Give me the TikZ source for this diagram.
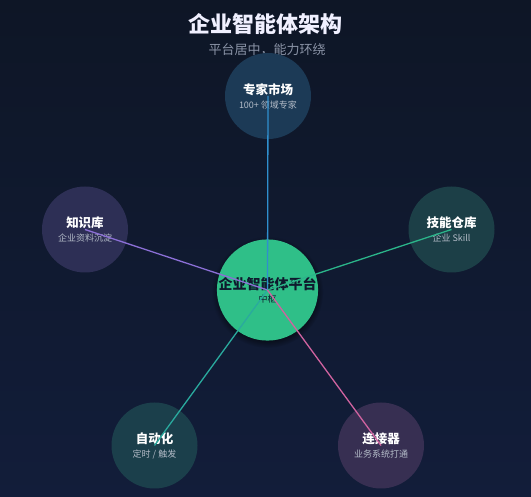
\documentclass[tikz,border=0pt]{standalone}
\usepackage{fontspec}
\setmainfont{Noto Sans CJK SC}
\usetikzlibrary{shadows}

\definecolor{bgtop}{HTML}{0E1626}
\definecolor{bgbot}{HTML}{121D3A}
\definecolor{hubfill}{HTML}{2FBF88}
\definecolor{hubtext}{HTML}{0F1A2E}
\definecolor{subgray}{HTML}{8A93A6}
\definecolor{nodesub}{HTML}{B4BCC8}
\definecolor{fmarket}{HTML}{1C3A56}
\definecolor{fknow}{HTML}{2D2F55}
\definecolor{fskill}{HTML}{1C3F47}
\definecolor{fauto}{HTML}{1B3F4B}
\definecolor{fconn}{HTML}{372F52}
\definecolor{lmarket}{HTML}{2F8FCE}
\definecolor{lknow}{HTML}{8B6FD6}
\definecolor{lskill}{HTML}{2BB58A}
\definecolor{lauto}{HTML}{2AAA9E}
\definecolor{lconn}{HTML}{D063A0}

\begin{document}
\begin{tikzpicture}
    [x=1pt,y=-1pt,
     every node/.style={circle,minimum size=86pt,inner sep=0pt,align=center,text=white},
     hubnode/.style={fill=hubfill,minimum size=101pt,text=hubtext,
       circular drop shadow={shadow xshift=0pt,shadow yshift=-2pt,shadow scale=1.1,opacity=.5,fill=black}},
     spoke/.style={line width=1.3pt}]
    \useasboundingbox (0,0) rectangle (531,497);
    \shade[top color=bgtop,bottom color=bgbot] (0,0) rectangle (531,497);
    \node[rectangle,minimum size=0pt,text=white!94!blue] (title) at (265.5,24)
      {\fontsize{22}{26}\selectfont\bfseries 企业智能体架构};
    \node[rectangle,minimum size=0pt,text=subgray] (subtitle) at (267,50)
      {\fontsize{13}{16}\selectfont 平台居中，能力环绕};
    \node[fill=fmarket] (market) at (268,96)
      {\fontsize{12.5}{17}\selectfont\bfseries 专家市场\\[2pt]{\color{nodesub}\fontsize{9}{11}\selectfont\mdseries 100+ 领域专家}};
    \node[fill=fknow] (know) at (85,229.5)
      {\fontsize{12.5}{17}\selectfont\bfseries 知识库\\[2pt]{\color{nodesub}\fontsize{9}{11}\selectfont\mdseries 企业资料沉淀}};
    \node[fill=fskill] (skill) at (451.5,229.5)
      {\fontsize{12.5}{17}\selectfont\bfseries 技能仓库\\[2pt]{\color{nodesub}\fontsize{9}{11}\selectfont\mdseries 企业 Skill}};
    \node[fill=fauto] (auto) at (154.5,445.5)
      {\fontsize{12.5}{17}\selectfont\bfseries 自动化\\[2pt]{\color{nodesub}\fontsize{9}{11}\selectfont\mdseries 定时 / 触发}};
    \node[fill=fconn] (conn) at (381,445.5)
      {\fontsize{12.5}{17}\selectfont\bfseries 连接器\\[2pt]{\color{nodesub}\fontsize{9}{11}\selectfont\mdseries 业务系统打通}};
    \node[hubnode] (hub) at (267.5,290)
      {\fontsize{14}{19}\selectfont\bfseries 企业智能体平台\\[1pt]{\fontsize{9}{11}\selectfont\mdseries 中枢}};
    \draw[spoke,lmarket] (hub.center) -- (market.center) ;
    \draw[spoke,lknow] (hub.center) -- (know.center) ;
    \draw[spoke,lskill] (hub.center) -- (skill.center) ;
    \draw[spoke,lauto] (hub.center) -- (auto.center) ;
    \draw[spoke,lconn] (hub.center) -- (conn.center) ;
  \end{tikzpicture}
\end{document}
